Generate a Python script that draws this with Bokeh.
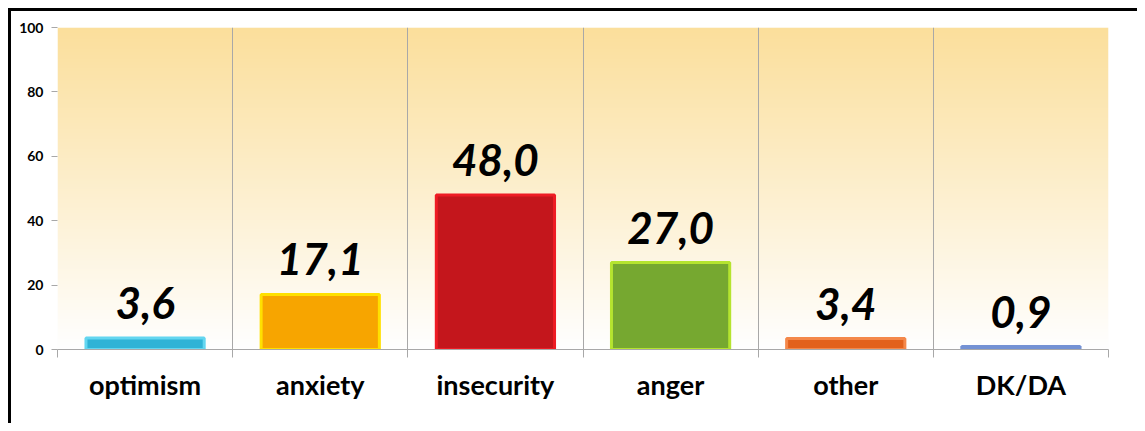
import numpy as np
from bokeh.plotting import figure
from bokeh.models import ColumnDataSource, FixedTicker, CustomJSTickFormatter, LabelSet, Range1d
from bokeh.core.properties import value
from bokeh.embed import file_html
from bokeh.resources import INLINE

categories = ["optimism", "anxiety", "insecurity", "anger", "other", "DK/DA"]
values = [3.6, 17.1, 48.0, 27.0, 3.4, 0.9]
fill_colors = ["#2FB3D6", "#F7A500", "#C4161C", "#76A830", "#E2611C", "#4A6CB8"]
line_colors = ["#63D6F0", "#FFE000", "#EE1C24", "#B5E42F", "#F4884A", "#7492D4"]
y_ticks = [0, 20, 40, 60, 80, 100]

n = len(categories)
xs = [i + 0.5 for i in range(n)]
labels = [f"{v:.1f}".replace(".", ",") for v in values]

src = ColumnDataSource(dict(x=xs, top=values, fill=fill_colors, line=line_colors, label=labels))

p = figure(width=1137, height=423, output_backend="svg", toolbar_location=None,
           x_range=Range1d(0, n), y_range=Range1d(0, 100),
           min_border_left=57, min_border_right=29, min_border_top=27, min_border_bottom=74)
p.styles = {
    "background": ("linear-gradient(black, black) 8px 8px / 3px 100% no-repeat, "
                   "linear-gradient(black, black) 8px 8px / 100% 3px no-repeat, white"),
}
p.background_fill_color = "white"
p.border_fill_color = None
p.outline_line_color = None

# background gradient in plot area
N = 200
t = np.linspace(0, 1, N)[:, None]  # 0 bottom -> 1 top
top_c = np.array([251, 223, 156])
bot_c = np.array([255, 255, 255])
cols = bot_c + (top_c - bot_c) * t
img = np.zeros((N, 1), dtype=np.uint32)
view = img.view(dtype=np.uint8).reshape((N, 1, 4))
view[:, 0, 0] = cols[:, 0].astype(np.uint8)
view[:, 0, 1] = cols[:, 1].astype(np.uint8)
view[:, 0, 2] = cols[:, 2].astype(np.uint8)
view[:, 0, 3] = 255
p.image_rgba(image=[img], x=0, y=0, dw=n, dh=100, level="image")

p.vbar(x="x", top="top", bottom=0, width=0.675, source=src,
       fill_color="fill", line_color="line", line_width=3)

lbl = LabelSet(x="x", y="top", text="label", source=src, text_align="center",
               text_baseline="alphabetic", y_offset=19,
               text_font=value("Lato"), text_font_style="bold italic", text_font_size="44px",
               text_color="black")
p.add_layout(lbl)

# grid
p.ygrid.grid_line_color = None
p.xgrid.ticker = FixedTicker(ticks=list(range(n + 1)))
p.xgrid.grid_line_color = "#A8A8A8"
p.xgrid.grid_line_width = 1
p.xgrid.level = "underlay"

# x axis
xa = p.xaxis[0]
xa.ticker = FixedTicker(ticks=xs, minor_ticks=list(range(n + 1)))
xa.formatter = CustomJSTickFormatter(args=dict(names=categories),
                                     code="const i = Math.floor(tick); return (i >= 0 && i < names.length) ? names[i] : '';")
xa.axis_line_color = "#A8A8A8"
xa.major_tick_line_color = None
xa.minor_tick_line_color = "#A8A8A8"
xa.minor_tick_out = 8
xa.minor_tick_in = 0
xa.major_label_standoff = 10
xa.major_label_text_font = "Lato"
xa.major_label_text_font_style = "bold"
xa.major_label_text_font_size = "27px"
xa.major_label_text_color = "black"

# y axis
ya = p.yaxis[0]
ya.ticker = FixedTicker(ticks=y_ticks)
ya.axis_line_color = None
ya.major_tick_line_color = "#A8A8A8"
ya.major_tick_out = 6
ya.major_tick_in = 0
ya.minor_tick_line_color = None
ya.major_label_standoff = 8
ya.major_label_text_font = "Lato"
ya.major_label_text_font_style = "bold"
ya.major_label_text_font_size = "14px"
ya.major_label_text_color = "black"

open("out.html", "w").write(file_html(p, INLINE))
